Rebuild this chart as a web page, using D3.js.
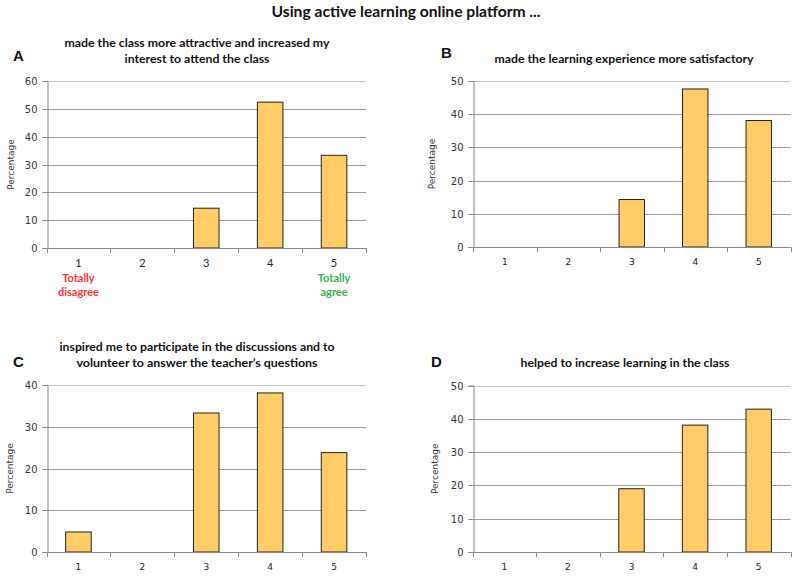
<!DOCTYPE html>
<html>
<head>
<meta charset="utf-8">
<script src="https://cdn.jsdelivr.net/npm/d3@7"></script>
<style>
  html, body { margin: 0; padding: 0; background: #fff; }
  svg { display: block; }
</style>
</head>
<body>
<svg id="chart" width="792" height="577"></svg>
<script>
// Likert responses (1 = totally disagree ... 5 = totally agree), percentage of students
const categories = ["1", "2", "3", "4", "5"];
const valuesA = [0, 0, 14.3, 52.4, 33.3];
const valuesB = [0, 0, 14.3, 47.6, 38.1];
const valuesC = [4.8, 0, 33.3, 38.1, 23.8];
const valuesD = [0, 0, 19.0, 38.1, 42.9];

const ticksA = [0, 10, 20, 30, 40, 50, 60];
const ticksB = [0, 10, 20, 30, 40, 50];
const ticksC = [0, 10, 20, 30, 40];
const ticksD = [0, 10, 20, 30, 40, 50];

const titleA = ["made the class more attractive and  increased my", "interest to attend the class"];
const titleB = ["made the learning experience more satisfactory"];
const titleC = ["inspired me to  participate in the discussions and to", "volunteer to answer the teacher\u2019s questions"];
const titleD = ["helped to increase learning in the class"];

const mainTitle = "Using active learning online platform ...";
const yLabel = "Percentage";
const endLabels = { first: ["Totally", "disagree"], last: ["Totally", "agree"] };

const svg = d3.select("#chart");
const titleFont = "Lato, 'Open Sans', sans-serif";
const tickFont = "'DejaVu Sans', Verdana, sans-serif";

svg.append("text")
  .attr("x", 406).attr("y", 12).attr("dy", "0.35em")
  .attr("text-anchor", "middle")
  .attr("font-family", titleFont).attr("font-weight", "bold")
  .attr("font-size", 15).attr("fill", "#111")
  .attr("textLength", 269).attr("lengthAdjust", "spacingAndGlyphs")
  .text(mainTitle);

function panel(cfg) {
  const g = svg.append("g");
  const { left, right, top, bottom } = cfg.box;

  const x = d3.scaleBand().domain(categories).range([left, right])
    .paddingInner(0.6).paddingOuter(0.3);
  const y = d3.scaleLinear().domain([0, d3.max(cfg.ticks)]).range([bottom, top]);
  const step = (right - left) / categories.length;

  // horizontal gridlines
  g.selectAll("line.grid").data(cfg.ticks.filter(t => t > 0)).join("line")
    .attr("x1", left).attr("x2", right)
    .attr("y1", d => Math.round(y(d)) + 0.5).attr("y2", d => Math.round(y(d)) + 0.5)
    .attr("stroke", (d, i, n) => i === n.length - 1 ? "#c4c4c4" : "#9a9a9a")
    .attr("stroke-width", 1);

  // y axis
  const yAxis = d3.axisLeft(y).tickValues(cfg.ticks).tickSize(5).tickPadding(5);
  const ya = g.append("g").attr("transform", `translate(${Math.round(left) + 0.5},0)`).call(yAxis);
  ya.select(".domain").attr("stroke", "#888");
  ya.selectAll(".tick line").attr("stroke", "#888");
  ya.selectAll(".tick text").attr("font-family", tickFont).attr("font-size", 10).attr("fill", "#333");
  ya.selectAll(".tick").attr("transform", d => `translate(0,${Math.round(y(d)) + 0.5})`);

  // bars
  g.selectAll("rect.bar").data(cfg.values.map((v, i) => ({ c: categories[i], v })).filter(d => d.v > 0))
    .join("rect")
    .attr("x", d => x(d.c)).attr("width", x.bandwidth())
    .attr("y", d => y(d.v)).attr("height", d => y(0) - y(d.v))
    .attr("fill", "#ffcc66").attr("stroke", "#222").attr("stroke-width", 1);

  // x axis line and boundary ticks
  g.append("line")
    .attr("x1", left).attr("x2", right)
    .attr("y1", Math.round(bottom) + 0.5).attr("y2", Math.round(bottom) + 0.5)
    .attr("stroke", "#888");
  g.selectAll("line.xt").data(d3.range(categories.length + 1)).join("line")
    .attr("x1", i => Math.round(left + i * step) + 0.5).attr("x2", i => Math.round(left + i * step) + 0.5)
    .attr("y1", Math.round(bottom)).attr("y2", Math.round(bottom) + 5)
    .attr("stroke", "#888");

  // category labels
  g.selectAll("text.cat").data(categories).join("text")
    .attr("x", d => x(d) + x.bandwidth() / 2)
    .attr("y", bottom + 15).attr("dy", "0.35em")
    .attr("text-anchor", "middle")
    .attr("font-family", cfg.catFont).attr("font-size", cfg.catSize).attr("fill", "#222")
    .text(d => d);

  if (cfg.endLabels) {
    const cats = [[categories[0], endLabels.first, "#ff3333"], [categories[categories.length - 1], endLabels.last, "#33b24d"]];
    cats.forEach(([c, lines, col]) => {
      lines.forEach((t, k) => {
        g.append("text")
          .attr("x", x(c) + x.bandwidth() / 2).attr("y", bottom + 30 + k * 14).attr("dy", "0.35em")
          .attr("text-anchor", "middle")
          .attr("font-family", titleFont).attr("font-weight", "bold")
          .attr("font-size", 11).attr("fill", col)
          .text(t);
      });
    });
  }

  // y axis title
  g.append("text")
    .attr("transform", `translate(${cfg.yLabelX},${(top + bottom) / 2}) rotate(-90)`)
    .attr("dy", "0.35em").attr("text-anchor", "middle")
    .attr("font-family", tickFont).attr("font-size", 9).attr("fill", "#333")
    .text(yLabel);

  // chart title
  cfg.title.forEach((t, k) => {
    g.append("text")
      .attr("x", cfg.titleX).attr("y", cfg.titleY + k * 16).attr("dy", "0.35em")
      .attr("text-anchor", "middle")
      .attr("font-family", titleFont).attr("font-weight", "bold")
      .attr("font-size", 12).attr("fill", "#111")
      .attr("textLength", cfg.titleW[k]).attr("lengthAdjust", "spacingAndGlyphs")
      .text(t);
  });

  // panel letter
  g.append("text")
    .attr("x", cfg.letterX).attr("y", cfg.letterY).attr("dy", "0.35em")
    .attr("font-family", "'Liberation Sans', Arial, sans-serif").attr("font-weight", "bold")
    .attr("font-size", 15).attr("fill", "#111")
    .text(cfg.letter);
}

panel({
  letter: "A", letterX: 13, letterY: 56,
  values: valuesA, ticks: ticksA, title: titleA, titleX: 197, titleY: 43, titleW: [265, 145],
  box: { left: 46.5, right: 366, top: 81, bottom: 248 }, yLabelX: 11,
  catFont: titleFont, catSize: 11, endLabels: true
});
panel({
  letter: "B", letterX: 441, letterY: 53,
  values: valuesB, ticks: ticksB, title: titleB, titleX: 624, titleY: 59, titleW: [259],
  box: { left: 473, right: 790.5, top: 81, bottom: 247 }, yLabelX: 432,
  catFont: tickFont, catSize: 9
});
panel({
  letter: "C", letterX: 13, letterY: 362,
  values: valuesC, ticks: ticksC, title: titleC, titleX: 197, titleY: 346.5, titleW: [275, 241],
  box: { left: 46.5, right: 366, top: 385, bottom: 552 }, yLabelX: 10,
  catFont: tickFont, catSize: 9
});
panel({
  letter: "D", letterX: 431, letterY: 362,
  values: valuesD, ticks: ticksD, title: titleD, titleX: 625, titleY: 363, titleW: [209],
  box: { left: 472.5, right: 790.5, top: 385.5, bottom: 552 }, yLabelX: 435,
  catFont: tickFont, catSize: 9
});
</script>
</body>
</html>
